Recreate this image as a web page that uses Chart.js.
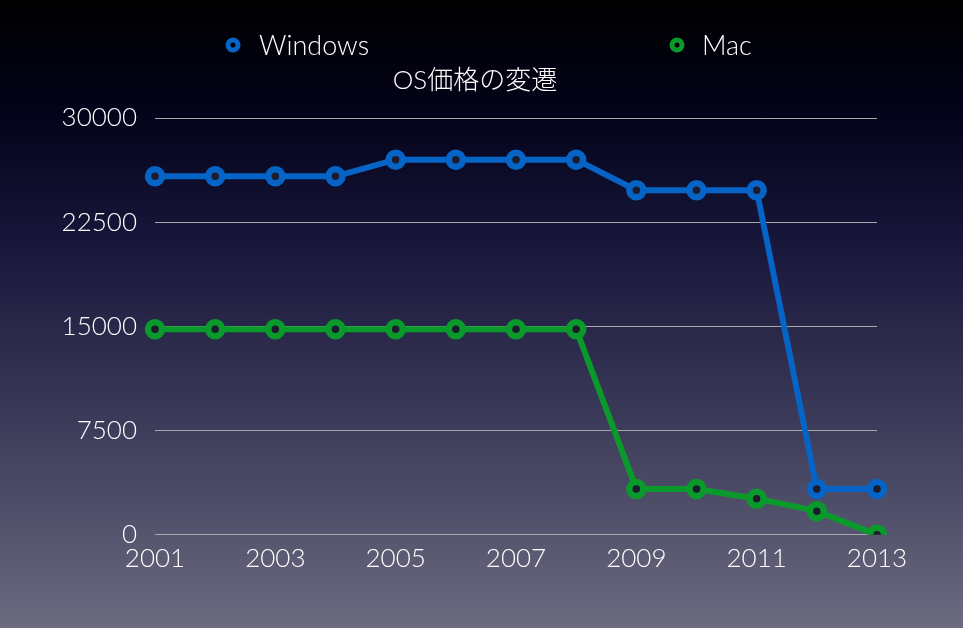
<!DOCTYPE html>
<html>
<head>
<meta charset="utf-8">
<script src="https://cdn.jsdelivr.net/npm/chart.js@4"></script>
<style>
  html, body { margin: 0; padding: 0; }
  body {
    width: 963px; height: 628px; overflow: hidden;
    background: linear-gradient(to bottom, #000000 0%, #03031a 18%, #17163a 38%, #3a3958 66%, #6c6b80 100%);
  }
  #wrap { width: 963px; height: 628px; position: relative; }
</style>
</head>
<body>
<div id="wrap"><canvas id="osChart"></canvas></div>
<script>
const years = ['2001', '2002', '2003', '2004', '2005', '2006', '2007', '2008', '2009', '2010', '2011', '2012', '2013'];
const windowsPrices = [25800, 25800, 25800, 25800, 27000, 27000, 27000, 27000, 24800, 24800, 24800, 3300, 3300];
const macPrices = [14800, 14800, 14800, 14800, 14800, 14800, 14800, 14800, 3300, 3300, 2600, 1700, 0];
const yTicks = [0, 7500, 15000, 22500, 30000];
const chartTitle = 'OS価格の変遷';

const textFont = "Lato, 'Noto Sans CJK JP', sans-serif";

// legend and title drawn by hand so they sit where the original has them
const headerPlugin = {
    id: 'headerPlugin',
    afterDraw(chart) {
        const ctx = chart.ctx;
        const spots = [{ px: 233, tx: 259 }, { px: 677, tx: 702 }];
        chart.data.datasets.forEach((ds, i) => {
            const s = spots[i];
            ctx.save();
            ctx.beginPath();
            ctx.arc(s.px, 45, 5, 0, Math.PI * 2);
            ctx.lineWidth = 5;
            ctx.strokeStyle = ds.borderColor;
            ctx.fillStyle = '#000';
            ctx.fill();
            ctx.stroke();
            ctx.font = '300 27px ' + textFont;
            ctx.fillStyle = '#fff';
            ctx.textBaseline = 'middle';
            ctx.fillText(ds.label, s.tx, 46);
            ctx.restore();
        });
        ctx.save();
        ctx.font = '300 26px ' + textFont;
        ctx.fillStyle = '#fff';
        ctx.textAlign = 'center';
        ctx.textBaseline = 'middle';
        ctx.fillText(chartTitle, 475, 81);
        ctx.restore();
    }
};

const ctx = document.getElementById('osChart').getContext('2d');
const osChart = new Chart(ctx, {
    type: 'line',
    data: {
        labels: years,
        datasets: [{
            label: 'Windows',
            data: windowsPrices,
            borderColor: '#0664c6',
            borderWidth: 6,
            pointRadius: 7,
            pointBorderWidth: 6.5,
            pointBackgroundColor: '#1c1c2c',
            pointBorderColor: '#0664c6',
            tension: 0
        }, {
            label: 'Mac',
            data: macPrices,
            borderColor: '#0a9a2c',
            borderWidth: 6,
            pointRadius: 7,
            pointBorderWidth: 6.5,
            pointBackgroundColor: '#1c1c2c',
            pointBorderColor: '#0a9a2c',
            tension: 0
        }]
    },
    options: {
        responsive: true,
        maintainAspectRatio: false,
        animation: false,
        layout: { padding: { top: 118, right: 86, bottom: 54, left: 0 } },
        plugins: {
            legend: { display: false },
            tooltip: { enabled: false },
            title: { display: false }
        },
        scales: {
            x: {
                grid: { display: false },
                border: { display: false },
                ticks: {
                    color: '#fff',
                    autoSkip: false,
                    maxRotation: 0,
                    padding: 0,
                    font: { family: textFont, size: 26, weight: '300' },
                    callback: function(value, index) {
                        return index % 2 === 0 ? years[index] : '';
                    }
                }
            },
            y: {
                min: 0,
                max: 30000,
                afterFit: function(scale) { scale.width = 155; },
                afterBuildTicks: function(scale) {
                    scale.ticks = yTicks.map(v => ({ value: v }));
                },
                grid: { color: '#a8a8a8', lineWidth: 1, drawTicks: false },
                border: { display: false },
                ticks: {
                    color: '#fff',
                    padding: 18,
                    font: { family: textFont, size: 26, weight: '300' },
                    callback: function(value) { return String(value); }
                }
            }
        }
    },
    plugins: [headerPlugin]
});
</script>
</body>
</html>
